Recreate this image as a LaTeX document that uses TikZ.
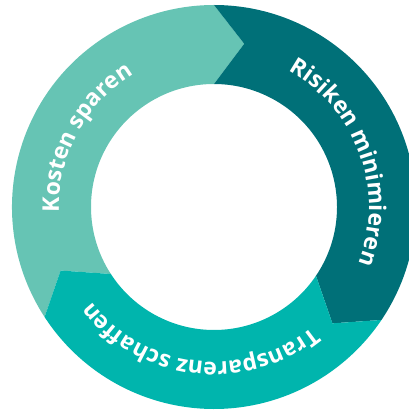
\documentclass[tikz,border=0pt]{standalone}
\usepackage{fontspec}
\setmainfont{Open Sans}
\usetikzlibrary{decorations.text}

\definecolor{kostencol}{RGB}{102,196,180}
\definecolor{risikocol}{RGB}{0,112,120}
\definecolor{transcol}{RGB}{0,181,173}

\begin{document}
\begin{tikzpicture}[
            segment/.style={draw=none},
            ringlabel/.style={decorate,decoration={text along path,text align=center,text color=white}}]

            \useasboundingbox (-214pt,-205pt) rectangle (195pt,207pt);

            % Kosten sparen (from 213 to 90 degrees)
            \fill[segment,kostencol] (213:202pt) arc[start angle=213,end angle=90,radius=202pt]
                -- (79.5:166pt) -- (90:123pt) arc[start angle=90,end angle=213,radius=123pt]
                -- (202.5:166pt) -- cycle;

            % Risiken minimieren (from 90 to -34 degrees)
            \fill[segment,risikocol] (90:202pt) arc[start angle=90,end angle=-34,radius=202pt]
                -- (-44.5:166pt) -- (-34:123pt) arc[start angle=-34,end angle=90,radius=123pt]
                -- (79.5:166pt) -- cycle;

            % Transparenz schaffen (from -34 to -147 degrees)
            \fill[segment,transcol] (-34:202pt) arc[start angle=-34,end angle=-147,radius=202pt]
                -- (-157.5:166pt) -- (-147:123pt) arc[start angle=-147,end angle=-34,radius=123pt]
                -- (-44.5:166pt) -- cycle;

            % Labels along the ring
            \path[ringlabel,decoration={text={|\fontsize{23}{27}\selectfont\bfseries|Kosten sparen}}]
                (200:155pt) arc[start angle=200,end angle=103,radius=155pt];
            \path[ringlabel,decoration={text={|\fontsize{23}{27}\selectfont\bfseries|Risiken minimieren}}]
                (75:155pt) arc[start angle=75,end angle=-35,radius=155pt];
            \path[ringlabel,decoration={text={|\fontsize{23}{27}\selectfont\bfseries|Transparenz schaffen}}]
                (-40:155pt) arc[start angle=-40,end angle=-153,radius=155pt];
        \end{tikzpicture}
\end{document}
